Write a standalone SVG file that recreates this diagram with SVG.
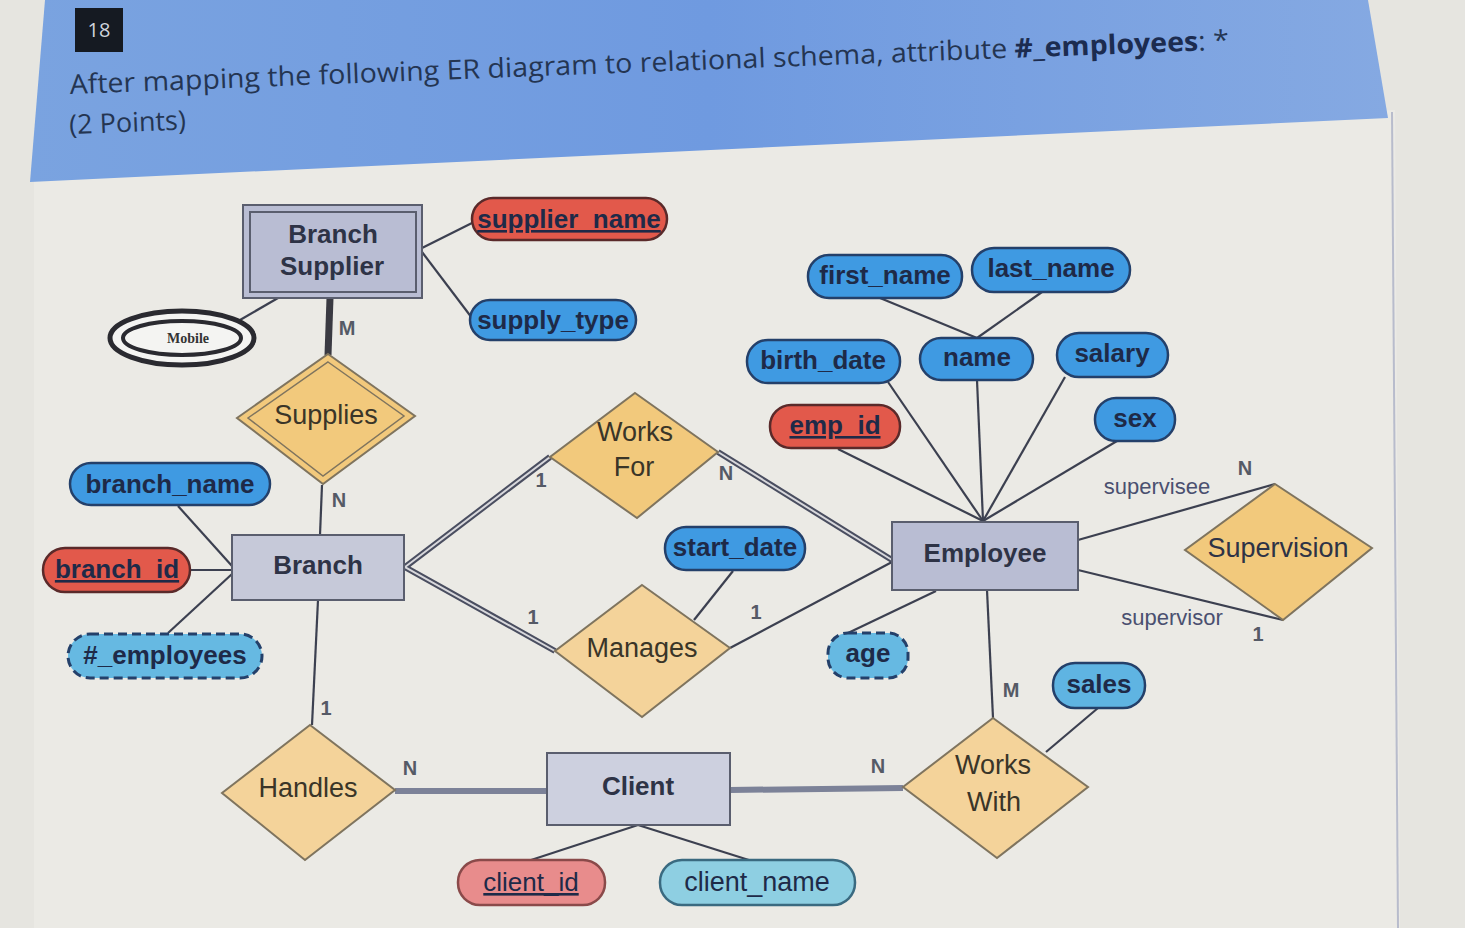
<svg xmlns="http://www.w3.org/2000/svg" width="1465" height="928" viewBox="0 0 1465 928">
<defs>
<linearGradient id="ban" x1="0" y1="0" x2="1" y2="0">
<stop offset="0" stop-color="#7aa3e0"/><stop offset="0.5" stop-color="#6f9ae0"/><stop offset="1" stop-color="#85a9e2"/>
</linearGradient>
</defs>
<style>
.ent{fill:#b9bdd3;stroke:#5a5e6e;stroke-width:2}
.rel{fill:#f2c97c;stroke:#7f745e;stroke-width:2}
.relL{fill:#f4d39a;stroke:#7f745e;stroke-width:2}
.attr{fill:#3f9ae2;stroke:#24406a;stroke-width:2.5}
.key{fill:#e2594b;stroke:#5a2a2a;stroke-width:2.5}
.der{fill:#66b9e2;stroke:#24406a;stroke-width:3;stroke-dasharray:9 5}
.t{font-family:"Liberation Sans",Arial,sans-serif;font-weight:bold;fill:#1e2a48;text-anchor:middle}
.et{font-family:"Liberation Sans",Arial,sans-serif;font-weight:bold;fill:#2e3346;text-anchor:middle;font-size:26px}
.rt{font-family:"Liberation Sans",Arial,sans-serif;fill:#3a3528;text-anchor:middle;font-size:27px}
.lab{font-family:"Liberation Sans",Arial,sans-serif;font-weight:bold;fill:#555a66;text-anchor:middle;font-size:20px}
.role{font-family:"Liberation Sans",Arial,sans-serif;fill:#4a5070;text-anchor:middle;font-size:22px}
.ln{stroke:#3c4050;stroke-width:2.2;fill:none}
.dblo{stroke:#4a4e60;stroke-width:6;fill:none}
.dbli{stroke:#d8d8dc;stroke-width:2;fill:none}
.thick{stroke:#7c8298;stroke-width:6;fill:none}
</style>
<rect x="0" y="0" width="1465" height="928" fill="#e6e5e0"/>
<polygon points="34,150 1395,110 1400,928 34,928" fill="#ebeae5"/>
<line x1="1392" y1="112" x2="1398" y2="928" stroke="#b8bccc" stroke-width="2"/>
<polygon points="45,0 1368,0 1388,118 30,182" fill="url(#ban)"/>
<rect x="75" y="8" width="48" height="44" fill="#151a22"/>
<text x="99" y="37" font-family="Open Sans,sans-serif" font-size="20" fill="#cfd4dc" text-anchor="middle">18</text>
<g transform="rotate(-2.2 70 94)">
<text x="70" y="94" font-family="Open Sans,'Noto Sans',sans-serif" font-size="27" fill="#243552" textLength="1160" lengthAdjust="spacingAndGlyphs">After mapping the following ER diagram to relational schema, attribute <tspan font-weight="bold" fill="#1c2c50">#_employees</tspan>: *</text>
<text x="68" y="134" font-family="Open Sans,'Noto Sans',sans-serif" font-size="27" fill="#243552">(2 Points)</text>
</g>

<g id="connectors">
<line class="ln" x1="278" y1="298" x2="240" y2="320"/>
<line class="ln" x1="422" y1="248" x2="474" y2="222"/>
<line class="ln" x1="422" y1="252" x2="472" y2="318"/>
<line x1="330" y1="298" x2="328" y2="355" stroke="#3a3a42" stroke-width="7"/>
<line class="ln" x1="322" y1="485" x2="320" y2="535"/>
<line class="ln" x1="178" y1="506" x2="232" y2="566"/>
<line class="ln" x1="190" y1="570" x2="232" y2="570"/>
<line class="ln" x1="168" y1="633" x2="232" y2="574"/>
<line class="ln" x1="318" y1="600" x2="312" y2="725"/>
<path class="dblo" d="M550,457 L405,567 L555,651"/>
<path class="dbli" d="M550,457 L405,567 L555,651"/>
<line class="dblo" x1="718" y1="452" x2="892" y2="560"/>
<line class="dbli" x1="718" y1="452" x2="892" y2="560"/>
<line class="ln" x1="730" y1="648" x2="892" y2="562"/>
<line class="ln" x1="733" y1="571" x2="694" y2="620"/>
<line class="thick" x1="395" y1="791" x2="547" y2="791"/>
<line class="thick" x1="730" y1="790" x2="903" y2="788"/>
<line class="ln" x1="638" y1="825" x2="528" y2="861"/>
<line class="ln" x1="638" y1="825" x2="752" y2="861"/>
<line class="ln" x1="987" y1="590" x2="993" y2="718"/>
<line class="ln" x1="1046" y1="752" x2="1098" y2="708"/>
<line class="ln" x1="848" y1="633" x2="936" y2="591"/>
<line class="ln" x1="838" y1="449" x2="983" y2="521"/>
<line class="ln" x1="888" y1="382" x2="983" y2="521"/>
<line class="ln" x1="977" y1="380" x2="983" y2="521"/>
<line class="ln" x1="1065" y1="377" x2="983" y2="521"/>
<line class="ln" x1="1117" y1="441" x2="983" y2="521"/>
<line class="ln" x1="880" y1="298" x2="977" y2="338"/>
<line class="ln" x1="1042" y1="292" x2="977" y2="338"/>
<line class="ln" x1="1078" y1="540" x2="1275" y2="484"/>
<line class="ln" x1="1078" y1="570" x2="1283" y2="620"/>
<text class="lab" x="347" y="335">M</text>
<text class="lab" x="339" y="507">N</text>
<text class="lab" x="541" y="487">1</text>
<text class="lab" x="726" y="480">N</text>
<text class="lab" x="533" y="624">1</text>
<text class="lab" x="756" y="619">1</text>
<text class="lab" x="326" y="715">1</text>
<text class="lab" x="410" y="775">N</text>
<text class="lab" x="878" y="773">N</text>
<text class="lab" x="1011" y="697">M</text>
<text class="role" x="1157" y="494">supervisee</text>
<text class="lab" x="1245" y="475">N</text>
<text class="role" x="1172" y="625">supervisor</text>
<text class="lab" x="1258" y="641">1</text>
</g>

<g id="branch_supplier">
<rect x="243" y="205" width="179" height="93" class="ent"/>
<rect x="250" y="212" width="166" height="80" fill="none" stroke="#5a5e6e" stroke-width="2"/>
<text class="et" x="333" y="243">Branch</text>
<text class="et" x="332" y="275">Supplier</text>
</g>
<g id="supplier_name">
<rect x="472" y="198" width="195" height="42" rx="21" class="key"/>
<text class="t" x="569" y="228" font-size="26" text-decoration="underline">supplier_name</text>
</g>
<g id="supply_type">
<rect x="470" y="300" width="166" height="40" rx="20" class="attr"/>
<text class="t" x="553" y="329" font-size="26">supply_type</text>
</g>
<g id="mobile">
<ellipse cx="182" cy="338" rx="72" ry="27" fill="#f4f4f2" stroke="#2a2a30" stroke-width="5"/>
<ellipse cx="182" cy="338" rx="59" ry="17" fill="#f4f4f2" stroke="#2a2a30" stroke-width="4"/>
<text x="188" y="343" font-family="'Liberation Serif',serif" font-weight="bold" font-size="14" fill="#333" text-anchor="middle">Mobile</text>
</g>
<g id="supplies">
<polygon points="328,354 415,416 323,484 237,418" class="rel"/>
<polygon points="328,362 404,416 323,476 248,418" fill="none" stroke="#7f745e" stroke-width="1.5"/>
<text class="rt" x="326" y="424">Supplies</text>
</g>
<g id="branch_name">
<rect x="70" y="463" width="200" height="42" rx="21" class="attr"/>
<text class="t" x="170" y="493" font-size="26">branch_name</text>
</g>
<g id="branch">
<rect x="232" y="535" width="172" height="65" class="ent" fill="#c6c9d9" style="fill:#c6c9d9"/>
<text class="et" x="318" y="574">Branch</text>
</g>
<g id="branch_id">
<rect x="43" y="548" width="147" height="44" rx="22" class="key"/>
<text class="t" x="117" y="578" font-size="26" text-decoration="underline">branch_id</text>
</g>
<g id="employees_attr">
<rect x="68" y="634" width="194" height="44" rx="22" class="der"/>
<text class="t" x="165" y="664" font-size="26">#_employees</text>
</g>
<g id="handles">
<polygon points="310,725 395,790 305,860 222,793" class="relL"/>
<text class="rt" x="308" y="797">Handles</text>
</g>
<g id="client">
<rect x="547" y="753" width="183" height="72" class="ent" style="fill:#cdd0df"/>
<text class="et" x="638" y="795">Client</text>
</g>
<g id="client_id">
<rect x="458" y="860" width="147" height="45" rx="22" fill="#e88c8c" stroke="#8a4a4a" stroke-width="2.5"/>
<text class="t" x="531" y="891" font-size="26" style="font-weight:normal" text-decoration="underline">client_id</text>
</g>
<g id="client_name">
<rect x="660" y="860" width="195" height="45" rx="22" fill="#8ecfe2" stroke="#3a6a80" stroke-width="2.5"/>
<text class="t" x="757" y="891" font-size="27" style="font-weight:normal">client_name</text>
</g>
<g id="works_for">
<polygon points="635,393 718,452 637,518 550,457" class="rel"/>
<text class="rt" x="635" y="441">Works</text>
<text class="rt" x="634" y="476">For</text>
</g>
<g id="manages">
<polygon points="642,585 730,648 642,717 555,651" class="relL"/>
<text class="rt" x="642" y="657">Manages</text>
</g>
<g id="start_date">
<rect x="665" y="527" width="140" height="43" rx="21" class="attr"/>
<text class="t" x="735" y="556" font-size="26">start_date</text>
</g>
<g id="employee">
<rect x="892" y="522" width="186" height="68" class="ent"/>
<text class="et" x="985" y="562" font-size="28">Employee</text>
</g>
<g id="age">
<rect x="828" y="633" width="80" height="45" rx="20" class="der"/>
<text class="t" x="868" y="662" font-size="26">age</text>
</g>
<g id="works_with">
<polygon points="993,718 1088,787 997,858 903,787" class="relL"/>
<text class="rt" x="993" y="774">Works</text>
<text class="rt" x="994" y="811">With</text>
</g>
<g id="sales">
<rect x="1053" y="663" width="92" height="45" rx="22" fill="#5fb4e2" stroke="#24406a" stroke-width="2.5"/>
<text class="t" x="1099" y="693" font-size="26">sales</text>
</g>
<g id="emp_id">
<rect x="770" y="405" width="130" height="43" rx="21" class="key"/>
<text class="t" x="835" y="434" font-size="26" text-decoration="underline">emp_id</text>
</g>
<g id="birth_date">
<rect x="747" y="340" width="153" height="43" rx="21" class="attr"/>
<text class="t" x="823" y="369" font-size="26">birth_date</text>
</g>
<g id="name">
<rect x="920" y="338" width="113" height="42" rx="21" class="attr"/>
<text class="t" x="977" y="366" font-size="26">name</text>
</g>
<g id="salary">
<rect x="1057" y="333" width="111" height="44" rx="22" class="attr"/>
<text class="t" x="1112" y="362" font-size="26">salary</text>
</g>
<g id="sex">
<rect x="1095" y="398" width="80" height="43" rx="21" class="attr"/>
<text class="t" x="1135" y="427" font-size="26">sex</text>
</g>
<g id="first_name">
<rect x="808" y="255" width="154" height="43" rx="21" class="attr"/>
<text class="t" x="885" y="284" font-size="26">first_name</text>
</g>
<g id="last_name">
<rect x="972" y="248" width="158" height="44" rx="22" class="attr"/>
<text class="t" x="1051" y="277" font-size="26">last_name</text>
</g>
<g id="supervision">
<polygon points="1275,484 1372,548 1283,620 1185,550" class="rel"/>
<text class="rt" x="1278" y="557" style="fill:#2e3346">Supervision</text>
</g>
</svg>
